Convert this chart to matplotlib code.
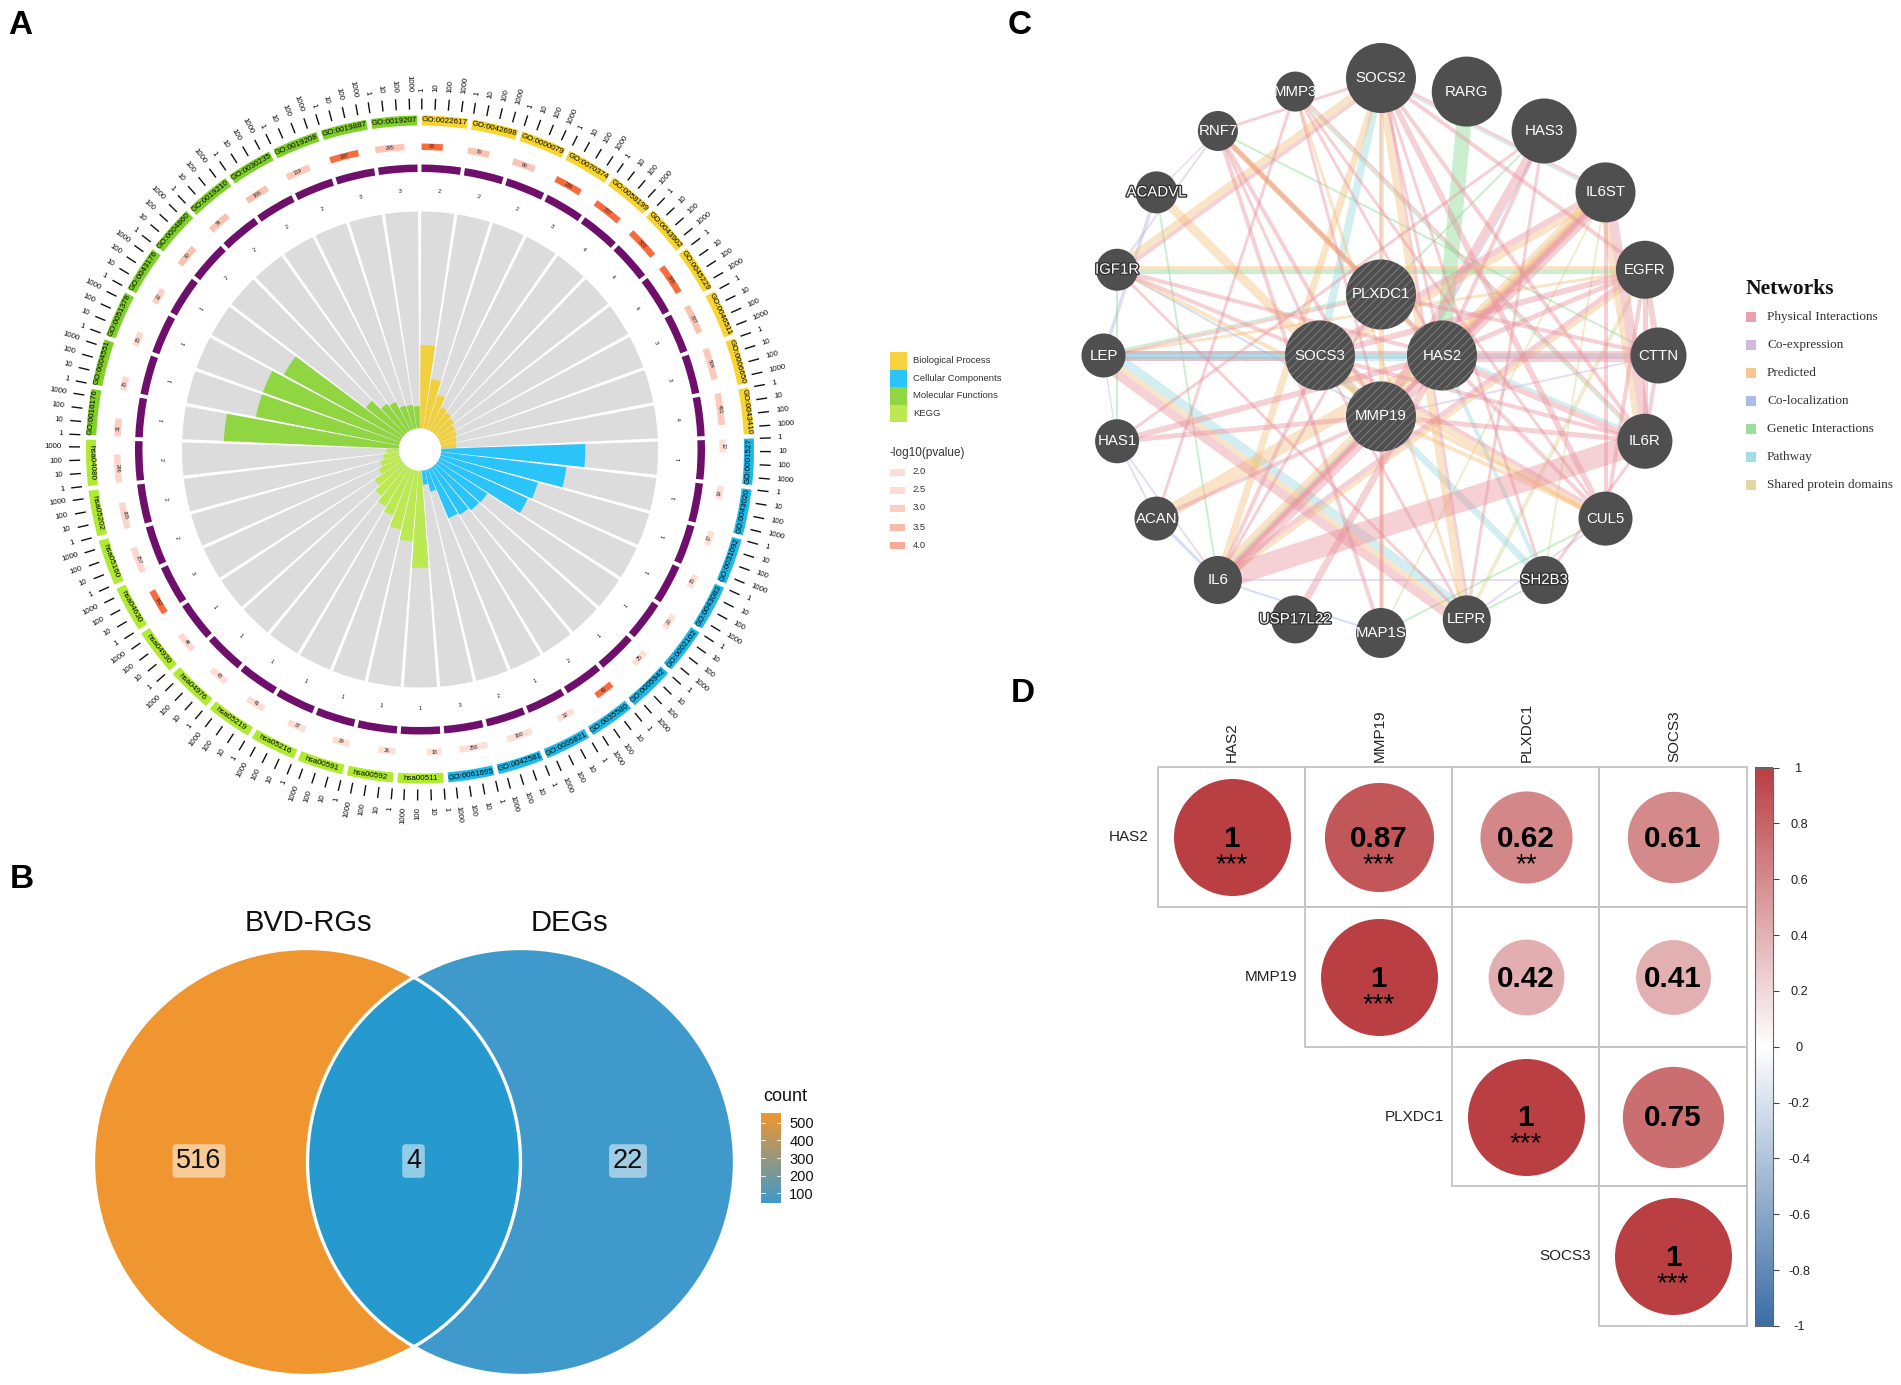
import numpy as np
import matplotlib
matplotlib.use("Agg")
import matplotlib.pyplot as plt
import matplotlib.patheffects as pe
from matplotlib.colors import LinearSegmentedColormap
from matplotlib.patches import Circle, Rectangle

plt.rcParams['font.family'] = ['Liberation Sans', 'DejaVu Sans']
plt.rcParams['hatch.linewidth'] = 0.7

W, H = 1901, 1385
fig = plt.figure(figsize=(W / 100, H / 100), dpi=100, facecolor='white')


def px_axes(x0, y0, w, h, **kw):
    return fig.add_axes([x0 / W, 1 - (y0 + h) / H, w / W, h / H], **kw)


# ---------------- Panel A data ----------------
go_bp = ['GO:0022617', 'GO:0042698', 'GO:0000079', 'GO:0070374', 'GO:0058199', 'GO:0043902',
         'GO:0045229', 'GO:0046511', 'GO:0006650', 'GO:0043410']
go_cc = ['GO:0001527', 'GO:0043020', 'GO:0031092', 'GO:0043083', 'GO:0002102', 'GO:0005942',
         'GO:0035580', 'GO:0005821', 'GO:0042581', 'GO:0061695']
kegg = ['hsa00511', 'hsa00592', 'hsa00591', 'hsa05216', 'hsa05219', 'hsa04976', 'hsa04930',
        'hsa04630', 'hsa05160', 'hsa05202', 'hsa04080']
go_mf = ['GO:0016176', 'GO:0004551', 'GO:0051378', 'GO:0043176', 'GO:0004860', 'GO:0019210',
         'GO:0030235', 'GO:0019208', 'GO:0019887', 'GO:0019207']

bar_bp = [83, 50, 36, 26, 24, 22, 19, 18, 16, 15]
bar_cc = [144, 126, 101, 97, 59, 58, 55, 53, 22, 14]
bar_kegg = [97, 71, 61, 50, 45, 39, 33, 24, 20, 16, 12]
bar_mf = [175, 146, 146, 134, 47, 35, 32, 25, 24, 22]

count_bp = [63, 70, 90, 236, 307, 503, 378, 307, 504, 491]
count_cc = [12, 14, 17, 15, 20, 25, 42, 32, 160, 258]
count_kegg = [18, 26, 29, 37, 41, 43, 44, 142, 157, 165, 246]
count_mf = [31, 15, 15, 22, 70, 74, 106, 119, 297, 295]

logp_bp = [6, 3.5, 3.5, 6, 6, 6, 6, 3.5, 3.2, 3.2]
logp_cc = [2.2, 2.2, 2.2, 2.2, 2.2, 2.2, 6, 2.2, 2.2, 2.2]
logp_kegg = [2.2, 2.2, 2.3, 2.3, 2.3, 2.3, 2.5, 6, 2.6, 2.6, 2.6]
logp_mf = [3, 2.5, 2.5, 2.8, 3.6, 3.6, 3.6, 3.3, 6, 3.4]

hits_bp = [2, 2, 2, 3, 4, 4, 4, 3, 3, 4]
hits_cc = [1, 1, 1, 1, 1, 1, 2, 1, 2, 3]
hits_kegg = [1, 1, 1, 1, 1, 1, 1, 3, 2, 2, 2]
hits_mf = [1, 1, 1, 1, 2, 2, 2, 2, 3, 3]

category_names = ['Biological Process', 'Cellular Components', 'Molecular Functions', 'KEGG']
pvalue_levels = ['2.0', '2.5', '3.0', '3.5', '4.0']
axis_ticks = [1, 10, 100, 1000]

# ---------------- Panel B data ----------------
venn_sets = ['BVD-RGs', 'DEGs']
venn_counts = [516, 4, 22]
count_ticks = [100, 200, 300, 400, 500]

# ---------------- Panel C data ----------------
outer_genes = ['SOCS2', 'RARG', 'HAS3', 'IL6ST', 'EGFR', 'CTTN', 'IL6R', 'CUL5', 'SH2B3', 'LEPR',
               'MAP1S', 'USP17L22', 'IL6', 'ACAN', 'HAS1', 'LEP', 'IGF1R', 'ACADVL', 'RNF7', 'MMP3']
outer_sizes = [35, 35, 32.5, 30, 29, 28, 27.5, 27, 24, 24, 25, 24, 24, 22, 22, 22, 21, 21, 20, 20]
query_genes = ['PLXDC1', 'HAS2', 'MMP19', 'SOCS3']
query_size = 35

edges_physical = [
    ('IL6', 'IL6R', 22), ('IL6', 'IL6ST', 9), ('IL6', 'EGFR', 5), ('IL6', 'MMP19', 5), ('IL6', 'HAS2', 4),
    ('IL6', 'SOCS3', 4), ('LEP', 'LEPR', 9), ('LEP', 'SOCS3', 4), ('LEP', 'HAS2', 3), ('LEP', 'PLXDC1', 3),
    ('IL6ST', 'IL6R', 10), ('IL6ST', 'CUL5', 4), ('IL6ST', 'SOCS3', 6), ('IL6ST', 'SOCS2', 3), ('IL6ST', 'MMP19', 5),
    ('EGFR', 'CTTN', 6), ('EGFR', 'IL6R', 5), ('EGFR', 'SOCS3', 6), ('EGFR', 'SOCS2', 4), ('EGFR', 'CUL5', 4),
    ('CTTN', 'IL6R', 4), ('CTTN', 'HAS2', 11), ('CTTN', 'PLXDC1', 4), ('CUL5', 'SOCS2', 6), ('CUL5', 'SOCS3', 4),
    ('CUL5', 'RNF7', 4), ('CUL5', 'MMP3', 3), ('IL6R', 'SOCS3', 4), ('IL6R', 'MMP3', 3), ('IL6R', 'HAS2', 6),
    ('IL6R', 'SOCS2', 4), ('HAS3', 'MMP19', 8), ('HAS3', 'HAS2', 4), ('HAS1', 'HAS2', 6), ('HAS1', 'HAS3', 3),
    ('HAS1', 'MMP19', 5), ('RNF7', 'MMP19', 4), ('RNF7', 'MAP1S', 4), ('RNF7', 'SOCS2', 3), ('MMP3', 'HAS2', 3),
    ('MMP3', 'MMP19', 3), ('ACAN', 'MMP3', 3), ('ACAN', 'MMP19', 4), ('IGF1R', 'SOCS2', 4), ('IGF1R', 'SOCS3', 4),
    ('IGF1R', 'HAS2', 4), ('IGF1R', 'LEPR', 3), ('USP17L22', 'HAS2', 7), ('SH2B3', 'SOCS2', 3), ('SH2B3', 'IL6R', 3),
    ('LEPR', 'SOCS2', 3), ('LEPR', 'SOCS3', 3), ('LEPR', 'HAS3', 3), ('MAP1S', 'MMP19', 3), ('IL6ST', 'HAS2', 5),
    ('EGFR', 'HAS2', 5), ('SOCS2', 'HAS2', 3), ('IL6R', 'MMP19', 5), ('IL6', 'PLXDC1', 3), ('RNF7', 'SOCS3', 3),
]
edges_predicted = [
    ('ACAN', 'HAS2', 13), ('RNF7', 'HAS2', 6), ('RNF7', 'PLXDC1', 5), ('IGF1R', 'SOCS2', 7), ('ACADVL', 'MMP19', 9),
    ('IGF1R', 'CUL5', 4), ('SOCS2', 'LEPR', 7), ('IL6ST', 'IL6', 6), ('IL6ST', 'HAS2', 5), ('IL6ST', 'IL6R', 6),
    ('EGFR', 'LEP', 3), ('SOCS3', 'CUL5', 7), ('MMP19', 'CUL5', 4), ('LEP', 'LEPR', 5), ('SOCS2', 'IL6', 7),
    ('SOCS2', 'MAP1S', 5), ('IL6ST', 'SOCS3', 6), ('IGF1R', 'EGFR', 3), ('MMP3', 'LEPR', 3),
    ('EGFR', 'IL6', 4), ('IL6ST', 'IL6', 3),
]
edges_pathway = [
    ('LEP', 'LEPR', 9), ('SOCS2', 'SOCS3', 8), ('SOCS2', 'IL6ST', 2), ('LEP', 'CTTN', 3), ('SOCS3', 'SH2B3', 7),
    ('HAS2', 'SH2B3', 4), ('LEP', 'HAS2', 7), ('IL6', 'MMP19', 3), ('HAS2', 'IL6R', 3), ('LEP', 'SOCS3', 3),
]
edges_genetic = [
    ('RARG', 'HAS2', 15), ('IGF1R', 'EGFR', 5), ('LEP', 'PLXDC1', 2), ('RNF7', 'CTTN', 2), ('MMP3', 'IL6R', 2),
    ('IL6', 'ACADVL', 2), ('LEPR', 'SH2B3', 2), ('IGF1R', 'HAS1', 2), ('HAS3', 'PLXDC1', 2), ('MAP1S', 'CUL5', 2),
]
edges_coexpr = [
    ('IL6', 'SH2B3', 2), ('ACAN', 'HAS1', 2), ('LEP', 'ACADVL', 1.5), ('HAS1', 'IL6', 2), ('LEPR', 'CUL5', 2),
    ('IGF1R', 'RNF7', 2), ('CTTN', 'MMP19', 2), ('ACADVL', 'RNF7', 1.5), ('LEP', 'HAS1', 1.5), ('SOCS2', 'PLXDC1', 2),
]
edges_coloc = [
    ('LEP', 'ACADVL', 2), ('ACAN', 'IL6', 3), ('IL6', 'MAP1S', 2), ('LEP', 'CTTN', 3), ('IGF1R', 'MMP19', 2),
    ('HAS3', 'MMP19', 2), ('LEP', 'SOCS3', 3),
]
edges_shared = [('EGFR', 'LEPR', 4), ('IL6ST', 'SH2B3', 2), ('IL6ST', 'MAP1S', 2)]

network_types = ['Physical Interactions', 'Co-expression', 'Predicted', 'Co-localization',
                 'Genetic Interactions', 'Pathway', 'Shared protein domains']

# ---------------- Panel D data ----------------
corr_genes = ['HAS2', 'MMP19', 'PLXDC1', 'SOCS3']
corr_values = [[1, 0.87, 0.62, 0.61],
               [None, 1, 0.42, 0.41],
               [None, None, 1, 0.75],
               [None, None, None, 1]]
corr_stars = [['***', '***', '**', ''],
              ['', '***', '', ''],
              ['', '', '***', ''],
              ['', '', '', '***']]
corr_ticks = [1, 0.8, 0.6, 0.4, 0.2, 0, -0.2, -0.4, -0.6, -0.8, -1]

# ================= Panel A =================
CX, CY, RMAX = 420, 449.5, 385
pa = px_axes(CX - RMAX, CY - RMAX, 2 * RMAX, 2 * RMAX, projection='polar')
pa.set_theta_zero_location('N')
pa.set_theta_direction(-1)
pa.axis('off')

labels = go_bp + go_cc + kegg + go_mf
bars = bar_bp + bar_cc + bar_kegg + bar_mf
counts = count_bp + count_cc + count_kegg + count_mf
logps = logp_bp + logp_cc + logp_kegg + logp_mf
hits = hits_bp + hits_cc + hits_kegg + hits_mf
n_each = [len(go_bp), len(go_cc), len(kegg), len(go_mf)]
bar_cols = ['#F0D03C'] * n_each[0] + ['#2AC4FA'] * n_each[1] + ['#BCE951'] * n_each[2] + ['#90D542'] * n_each[3]
chunk_cols = ['#F7D52E'] * n_each[0] + ['#1FB8E8'] * n_each[1] + ['#AEEA2F'] * n_each[2] + ['#7FD029'] * n_each[3]

n = len(labels)
step = 360 / n
starts = np.arange(n) * step + 0.3
span = step - 0.8
decade = 2.24
p_cmap = LinearSegmentedColormap.from_list('p', ['#FDE3DC', '#FBB8A5', '#F76B3F'])
HOLE = 21.3

t0 = np.deg2rad(starts)
w0 = np.deg2rad(span)
pa.bar(t0, 238 - HOLE, w0, bottom=HOLE, align='edge', color='#DCDCDC', lw=0)
pa.bar(t0, bars, w0, bottom=HOLE, align='edge', color=bar_cols, lw=0)
pa.bar(t0, 7.5, w0, bottom=277.5, align='edge', color='#6E0F6B', lw=0)
pa.bar(t0, 10, w0, bottom=324, align='edge', color=chunk_cols, lw=0)
pa.bar(t0, 6.5, np.deg2rad(np.log10(counts) * decade), bottom=299.5, align='edge',
       color=[p_cmap((v - 2) / 4) for v in logps], lw=0)


def tangent_rot(th):
    th = th % 360
    return 180 - th if 90 < th < 270 else -th


for i in range(n):
    mid = starts[i] + span / 2
    pa.text(np.deg2rad(mid), 329, labels[i], fontsize=5.8, ha='center', va='center',
            rotation=tangent_rot(mid), rotation_mode='anchor', color='black')
    pa.text(np.deg2rad(mid), 259, str(hits[i]), fontsize=3.8, ha='center', va='center',
            rotation=tangent_rot(mid), rotation_mode='anchor', color='black')
    arc = np.log10(counts[i]) * decade
    cmid = starts[i] + arc / 2
    pa.text(np.deg2rad(cmid), 302.7, str(counts[i]), fontsize=3.8, ha='center', va='center',
            rotation=tangent_rot(cmid), rotation_mode='anchor', color='#222222')
    for k, tick in enumerate(axis_ticks):
        a = starts[i] + np.log10(tick) * decade
        rad = np.deg2rad(a)
        pa.vlines(rad, 340, 351, color='#111111', lw=1.0)
        if a % 360 < 180:
            rot, ha = 90 - a, 'left'
        else:
            rot, ha = 270 - a, 'right'
        pa.text(rad, 358, str(tick), fontsize=5.7, ha=ha, va='center', rotation=rot,
                rotation_mode='anchor', color='#111111')
pa.set_ylim(0, RMAX)
pa.set_xlim(0, 2 * np.pi)

# ================= Panel B =================
pb = px_axes(60, 900, 700, 485)
pb.set_xlim(60, 760)
pb.set_ylim(1385, 900)
pb.axis('off')
VC = [(307, 1162), (521, 1162)]
VR = 213.5
pb.add_patch(Circle(VC[0], VR, fc='#EF9630', ec='none'))
pb.add_patch(Circle(VC[1], VR, fc='#3F9ACB', ec='none'))
inter = Circle(VC[0], VR, fc='#269ACE', ec='none', zorder=3)
pb.add_patch(inter)
inter.set_clip_path(Circle(VC[1], VR, transform=pb.transData))
for c in VC:
    pb.add_patch(Circle(c, VR, fc='none', ec='white', lw=2.4, zorder=4))
pb.text(308, 923, venn_sets[0], fontsize=21, ha='center', va='center', color='#111111')
pb.text(569, 923, venn_sets[1], fontsize=21, ha='center', va='center', color='#111111')
for x, v in zip([199, 413.5, 628], venn_counts):
    pb.text(x, 1161, str(v), fontsize=19.5, ha='center', va='center', color='#111111', zorder=6,
            bbox=dict(boxstyle='round,pad=0.14', fc='white', alpha=0.5, ec='none'))

vlo, vhi = 43, 557
cb = px_axes(761, 1113, 20, 90)
cb.imshow(np.linspace(vhi, vlo, 200)[:, None], aspect='auto', extent=[0, 1, vlo, vhi],
          cmap=LinearSegmentedColormap.from_list('venn', ['#3F9ACB', '#EF9630']))
cb.set_xticks([])
cb.yaxis.tick_right()
cb.set_yticks(count_ticks)
cb.tick_params(axis='y', length=0, labelsize=10.5, pad=6, labelcolor='#111111')
for s in cb.spines.values():
    s.set_visible(False)
for v in count_ticks:
    cb.plot([0, 0.2], [v, v], color='white', lw=0.6)
    cb.plot([0.8, 1], [v, v], color='white', lw=0.6)
cb.set_xlim(0, 1)
cb.set_ylim(vlo, vhi)

# ================= Panel C =================
pc = px_axes(1080, 30, 640, 650)
pc.set_xlim(1080, 1720)
pc.set_ylim(680, 30)
pc.axis('off')
NX, NY, RING, INNER = 1381, 355.5, 277.5, 61
pos, size = {}, {}
for i, g in enumerate(outer_genes):
    a = np.deg2rad(i * 360 / len(outer_genes))
    pos[g] = np.array([NX + RING * np.sin(a), NY - RING * np.cos(a)])
    size[g] = outer_sizes[i]
for i, g in enumerate(query_genes):
    a = np.deg2rad(i * 90)
    pos[g] = np.array([NX + INNER * np.sin(a), NY - INNER * np.cos(a)])
    size[g] = query_size

net_cols = ['#E8909B', '#C9AEDB', '#F5BF7C', '#9DB2E2', '#84DA8C', '#94D8DE', '#DBD28F']
edge_groups = [(edges_coexpr, net_cols[1]), (edges_coloc, net_cols[3]), (edges_shared, net_cols[6]),
               (edges_genetic, net_cols[4]), (edges_pathway, net_cols[5]), (edges_predicted, net_cols[2]),
               (edges_physical, net_cols[0])]
pair_total = {}
for group, col in edge_groups:
    for a, b, wgt in group:
        key = tuple(sorted((a, b)))
        pair_total[key] = pair_total.get(key, 0) + wgt
pair_used = {}
for group, col in edge_groups:
    for a, b, wgt in group:
        key = tuple(sorted((a, b)))
        p, q = pos[key[0]], pos[key[1]]
        d = (q - p) / np.linalg.norm(q - p)
        normal = np.array([-d[1], d[0]])
        used = pair_used.get(key, 0)
        shift = used + wgt / 2 - pair_total[key] / 2
        pair_used[key] = used + wgt
        pp, qq = p + normal * shift, q + normal * shift
        pc.plot([pp[0], qq[0]], [pp[1], qq[1]], color=col, alpha=0.42,
                lw=wgt * 0.72, solid_capstyle='butt', zorder=2)
for g in outer_genes + query_genes:
    hatch = '////' if g in query_genes else None
    pc.add_patch(Circle(pos[g], size[g], fc='#4F4F4F', ec='#7D7D7D' if hatch else '#4F4F4F',
                        lw=0, hatch=hatch, zorder=3))
    t = pc.text(pos[g][0], pos[g][1], g, color='white', fontsize=10.8, ha='center', va='center', zorder=4)
    if size[g] * 2 < len(g) * 10:
        t.set_path_effects([pe.withStroke(linewidth=2, foreground='#333333')])

# ================= Panel D =================
pd_ax = px_axes(1158, 767.5, 588.5, 558.5)
pd_ax.set_xlim(0, 4)
pd_ax.set_ylim(4, 0)
pd_ax.axis('off')
corr_cmap = LinearSegmentedColormap.from_list('corr', ['#3C6EA6', '#FFFFFF', '#B93F42'])
BIG = 58.5 * 2 * 0.72
for i in range(4):
    for j in range(i, 4):
        v = corr_values[i][j]
        pd_ax.add_patch(Rectangle((j, i), 1, 1, fc='none', ec='#C4C4C4', lw=1.3, clip_on=False, zorder=1))
        pd_ax.scatter(j + 0.5, i + 0.5, s=BIG ** 2 * abs(v), color=corr_cmap((v + 1) / 2), lw=0, zorder=2)
        txt = '1' if v == 1 else f'{v:.2f}'
        pd_ax.text(j + 0.5, i + 0.512, txt, fontsize=21.3, fontweight='bold', ha='center', va='center',
                   color='black', zorder=3)
        if corr_stars[i][j]:
            pd_ax.text(j + 0.5, i + 0.68, corr_stars[i][j], fontsize=20, ha='center', va='center_baseline',
                       color='black', zorder=3)

over = px_axes(0, 0, W, H)
over.set_xlim(0, W)
over.set_ylim(H, 0)
over.axis('off')
over.patch.set_alpha(0)

col_x = [1232, 1379.5, 1526.5, 1674]
row_y = [837, 977, 1117, 1256]
row_r = [1148.5, 1297, 1444, 1591]
for g, x, y, r in zip(corr_genes, col_x, row_y, row_r):
    over.text(x, 762, g, fontsize=11, rotation=90, ha='center', va='bottom', color='#222222')
    over.text(r, y, g, fontsize=11, ha='right', va='center', color='#222222')

dc = px_axes(1755, 767.5, 17.5, 558.5)
dc.imshow(np.linspace(1, -1, 300)[:, None], aspect='auto', extent=[0, 1, -1, 1], cmap=corr_cmap, vmin=-1, vmax=1)
dc.set_xticks([])
dc.yaxis.tick_right()
dc.set_yticks(corr_ticks)
dc.set_yticklabels([str(t) for t in corr_ticks], ha='center')
dc.tick_params(axis='y', length=4, width=0.8, color='#444444', labelsize=9.2, pad=15, labelcolor='#222222')
for s in dc.spines.values():
    s.set_linewidth(0.8)
    s.set_color('#666666')

# ================= Legends & panel letters =================
swatch_cols = ['#F7D43F', '#2AC4FA', '#90D542', '#BCE951']
for i, name in enumerate(category_names):
    y = 352 + i * 17.6
    over.add_patch(Rectangle((890, y), 16.7, 17.6, fc=swatch_cols[i], ec='none'))
    over.text(913, y + 8.8, name, fontsize=6.8, ha='left', va='center', color='#333333')
over.text(890, 452.7, '-log10(pvalue)', fontsize=8.5, ha='left', va='center', color='#333333')
for y, lab, c in zip([472, 490, 508, 527, 545], pvalue_levels,
                     ['#FDDDD6', '#FDDCD2', '#FBCDBF', '#F9BCAB', '#F7A993']):
    over.add_patch(Rectangle((890, y - 3), 15, 6.5, fc=c, ec='none'))
    over.text(912.7, y, lab, fontsize=6.8, ha='left', va='center', color='#333333')

over.text(1746, 289, 'Networks', fontsize=15.5, fontweight='bold', ha='left', va='center', color='#111111',
          family=['Liberation Serif', 'DejaVu Serif'])
for y, lab, c in zip([317, 345, 373, 401, 429, 457, 485], network_types, net_cols):
    over.add_patch(Rectangle((1746, y - 5), 10, 10, fc=c, ec='none', alpha=0.85))
    over.text(1767, y, lab, fontsize=9.5, ha='left', va='center', color='#333333',
              family=['Liberation Serif', 'DejaVu Serif'])

over.text(763, 1096.5, 'count', fontsize=13, ha='left', va='center', color='#111111')

for ch, x, y in [('A', 8, 25), ('B', 10, 880), ('C', 1008, 25), ('D', 1011, 693)]:
    over.text(x, y, ch, fontsize=24, fontweight='bold', ha='left', va='center', color='black')

fig.savefig('out.png', dpi=100, facecolor='white')
